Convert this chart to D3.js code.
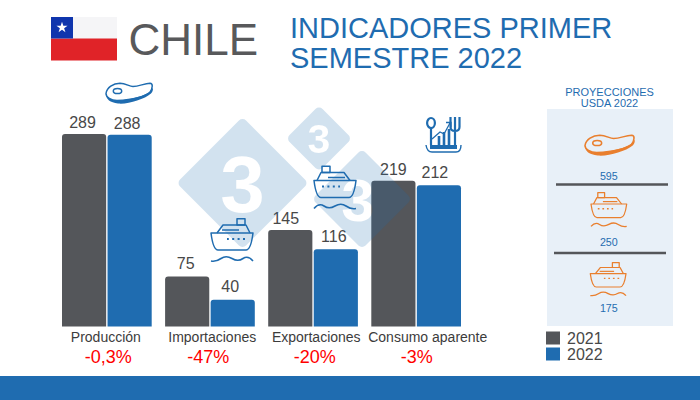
<!DOCTYPE html>
<html>
<head>
<meta charset="utf-8">
<script src="https://cdn.jsdelivr.net/npm/d3@7"></script>
<style>
  html, body { margin: 0; padding: 0; background: #fff; }
  text { font-family: "Liberation Sans", Arial, sans-serif; }
</style>
</head>
<body>
<div id="chart"></div>
<script>
// values
var categories = ["Producción", "Importaciones", "Exportaciones", "Consumo aparente"];
var years = ["2021", "2022"];
var values2021 = [289, 75, 145, 219];
var values2022 = [288, 40, 116, 212];
var changes = ["-0,3%", "-47%", "-20%", "-3%"];
var projections = ["595", "250", "175"];

var GREY = "#54565a", BLUE = "#1f6cb0", ORANGE = "#e97f2e", TEXT = "#484848";
var yearColor = d3.scaleOrdinal().domain(years).range([GREY, BLUE]);

var svg = d3.select("#chart").append("svg")
  .attr("width", 700).attr("height", 400)
  .style("display", "block");

// scales
var x = d3.scaleBand().domain(categories).range([62, 461]).paddingInner(0.13).paddingOuter(0).align(0);
var xYear = d3.scaleBand().domain(years).range([0, x.bandwidth()]).paddingInner(0.03);
var y = d3.scaleLinear().domain([0, 289]).range([326.5, 134]);

// bar with slightly rounded top corners
function barPath(x0, w, top, bottom) {
  var r = Math.min(3, bottom - top);
  var p = d3.path();
  p.moveTo(x0, bottom);
  p.lineTo(x0, top + r);
  p.quadraticCurveTo(x0, top, x0 + r, top);
  p.lineTo(x0 + w - r, top);
  p.quadraticCurveTo(x0 + w, top, x0 + w, top + r);
  p.lineTo(x0 + w, bottom);
  p.closePath();
  return p.toString();
}

// header
var flag = svg.append("g").attr("transform", "translate(51,17)");
flag.append("rect").attr("width", 66).attr("height", 22).attr("fill", "#f5f5f7");
flag.append("rect").attr("y", 21.5).attr("width", 66).attr("height", 22).attr("fill", "#e02328");
flag.append("rect").attr("width", 22).attr("height", 21.5).attr("fill", "#0f35ad");
flag.append("path")
  .attr("transform", "translate(11,10.5)")
  .attr("d", d3.symbol().type(d3.symbolStar).size(38))
  .attr("fill", "#fff");

svg.append("text").attr("x", 128.5).attr("y", 55)
  .attr("font-size", 44).attr("fill", "#58595b").text("CHILE");

svg.selectAll(".title").data(["INDICADORES PRIMER", "SEMESTRE 2022"]).enter().append("text")
  .attr("class", "title")
  .attr("x", 290).attr("y", function(d, i) { return 38 + i * 29.5; })
  .attr("font-size", 29).attr("fill", BLUE).text(function(d) { return d; });

// bars
var groups = svg.selectAll(".group").data(categories).enter().append("g")
  .attr("class", "group")
  .attr("transform", function(d) { return "translate(" + x(d) + ",0)"; });

groups.append("path")
  .attr("d", function(d, i) { return barPath(xYear("2021"), xYear.bandwidth(), y(values2021[i]), y(0)); })
  .attr("fill", yearColor("2021"));
groups.append("path")
  .attr("d", function(d, i) { return barPath(xYear("2022"), xYear.bandwidth(), y(values2022[i]), y(0)); })
  .attr("fill", yearColor("2022"));

// watermark, with the 3 cut out, sits over the bars
var marks = [
  { id: "m1", cx: 242.5, cy: 183, tx: 242.5, half: 66, fs: 80 },
  { id: "m2", cx: 319, cy: 138.5, tx: 319, half: 33, fs: 41 },
  { id: "m3", cx: 362, cy: 199, tx: 358, half: 50, fs: 60 }
];
var defs = svg.append("defs");
marks.forEach(function(m) {
  var mask = defs.append("mask").attr("id", m.id)
    .attr("maskUnits", "userSpaceOnUse").attr("x", 0).attr("y", 0).attr("width", 700).attr("height", 400);
  mask.append("rect").attr("width", 700).attr("height", 400).attr("fill", "#fff");
  mask.append("text").attr("x", m.tx).attr("y", m.cy + m.fs * 0.36)
    .attr("text-anchor", "middle").attr("font-size", m.fs).attr("font-weight", "bold")
    .attr("fill", "#000").text("3");
  var s = m.half * Math.SQRT2;
  svg.append("g").attr("mask", "url(#" + m.id + ")")
    .append("rect")
    .attr("x", -s / 2).attr("y", -s / 2).attr("width", s).attr("height", s).attr("rx", 5)
    .attr("transform", "translate(" + m.cx + "," + m.cy + ") rotate(45)")
    .attr("fill", BLUE).attr("fill-opacity", 0.2);
});

// value labels, the source nudges each one a little
var nudge2021 = [-1.5, -1.5, -4.5, 0];
var nudge2022 = [-2.5, -2.5, -2, -4];
var lift2021 = [6, 8, 6, 6];
var lift2022 = [6, 8, 7, 7.5];
groups.append("text")
  .attr("x", function(d, i) { return xYear("2021") + xYear.bandwidth() / 2 + nudge2021[i]; })
  .attr("y", function(d, i) { return y(values2021[i]) - lift2021[i]; })
  .attr("text-anchor", "middle").attr("font-size", 16).attr("fill", TEXT)
  .text(function(d, i) { return values2021[i]; });
groups.append("text")
  .attr("x", function(d, i) { return xYear("2022") + xYear.bandwidth() / 2 + nudge2022[i]; })
  .attr("y", function(d, i) { return y(values2022[i]) - lift2022[i]; })
  .attr("text-anchor", "middle").attr("font-size", 16).attr("fill", TEXT)
  .text(function(d, i) { return values2022[i]; });

// category names and changes
var nameNudge = [-1, 2.3, 3.2, 11.6];
var changeNudge = [1.4, -1.7, 1.7, 0.6];
groups.append("text")
  .attr("x", function(d, i) { return x.bandwidth() / 2 + nameNudge[i]; })
  .attr("y", 341.5).attr("text-anchor", "middle").attr("font-size", 14).attr("fill", "#3c3c3c")
  .text(function(d) { return d; });
groups.append("text")
  .attr("x", function(d, i) { return x.bandwidth() / 2 + changeNudge[i]; })
  .attr("y", 363).attr("text-anchor", "middle").attr("font-size", 18).attr("fill", "#ff0000")
  .text(function(d, i) { return changes[i]; });

// icons
function meat(sel, color) {
  sel.attr("fill", "none").attr("stroke", color).attr("stroke-width", 1.5).attr("stroke-linejoin", "round");
  sel.append("path").attr("fill", color).attr("stroke", "none")
    .attr("d", "M0,11C0,17 4,20 12,21C22,22 38,17 45,11C47,9 47,7 47,5C45,11 30,17 11,18C5,18 1,15 0,11Z");
  sel.append("path")
    .attr("d", "M0,11C1,5 7,1 14,.8C20,.8 23,4 27,4C33,4 38,1 44,.8C47,1 47,5 44,10C39,14 27,17 11,18C5,18 0,15 0,11Z");
  sel.append("ellipse").attr("cx", 11.5).attr("cy", 8.5).attr("rx", 4.2).attr("ry", 2.6);
}
function ship(sel, color) {
  sel.attr("fill", "none").attr("stroke", color).attr("stroke-width", 1.5).attr("stroke-linejoin", "round");
  sel.append("rect").attr("x", 8).attr("y", 0.7).attr("width", 8).attr("height", 6.3);
  sel.append("path").attr("d", "M3,15L7,7H30L36,15");
  sel.append("path").attr("d", "M0,15H42C41,23 39,32 35,32H7C3,32 1,23 0,15Z");
  sel.append("path").attr("d", "M14,12H31");
  sel.append("path").attr("stroke-dasharray", "2 3.4").attr("stroke-width", 1.8).attr("d", "M8,21H26");
  sel.append("path").attr("stroke-width", 1.6).attr("d", "M0,43Q5,37 10,40.5T21,40.5T32,40.5T42,43");
}
function cutlery(sel, color) {
  sel.attr("fill", "none").attr("stroke", color).attr("stroke-width", 2.2);
  sel.append("ellipse").attr("cx", 5).attr("cy", 6).attr("rx", 3.9).attr("ry", 5);
  sel.append("path").attr("d", "M5,11V28");
  sel.append("path").attr("d", "M24.5,0V10Q24.5,14 29,14Q33.5,14 33.5,10V0M29,0V29");
  sel.append("path").attr("stroke-width", 2.6).attr("d", "M13,28V19M18,28V15M23,28V12");
  sel.append("path").attr("stroke-width", 1.3).attr("d", "M6,22L14,15L18,17L24,6M20,5.5H25V10.5");
  sel.append("rect").attr("x", 4).attr("y", 28).attr("width", 27).attr("height", 4).attr("fill", color).attr("stroke", "none");
  sel.append("path").attr("stroke-width", 1.4).attr("d", "M0,28Q1,35 6,35H30Q35,35 35,28");
}
function place(fn, color, tx, ty, sx, sy) {
  svg.append("g").attr("transform", "translate(" + tx + "," + ty + ") scale(" + sx + "," + sy + ")").call(fn, color);
}
place(meat, BLUE, 106, 82.5, 1, 1);
place(ship, BLUE, 253, 218, -1, 1);
place(ship, BLUE, 314, 165.5, 1, 1);
place(cutlery, BLUE, 426, 117, 1, 1);

// projections panel
svg.append("rect").attr("x", 547).attr("y", 109).attr("width", 126).attr("height", 217).attr("fill", "#e8f0f8");
svg.selectAll(".ptitle").data(["PROYECCIONES", "USDA 2022"]).enter().append("text")
  .attr("class", "ptitle").attr("x", 609.5).attr("y", function(d, i) { return 95.7 + i * 11; })
  .attr("text-anchor", "middle").attr("font-size", 11).attr("fill", BLUE).text(function(d) { return d; });
var projY = [180, 245.7, 311.7];
svg.selectAll(".proj").data(projections).enter().append("text")
  .attr("class", "proj")
  .attr("x", 608.8).attr("y", function(d, i) { return projY[i]; })
  .attr("text-anchor", "middle").attr("font-size", 10.7).attr("fill", BLUE).text(function(d) { return d; });
svg.append("line").attr("x1", 556).attr("x2", 668).attr("y1", 184.5).attr("y2", 184.5).attr("stroke", GREY).attr("stroke-width", 2.5);
svg.append("line").attr("x1", 554).attr("x2", 666).attr("y1", 253).attr("y2", 253).attr("stroke", GREY).attr("stroke-width", 2.5);
place(meat, ORANGE, 585, 134.5, 1.06, 1);
place(ship, ORANGE, 591, 192, 0.85, 0.8);
place(ship, ORANGE, 626, 262, -0.85, 0.78);

// legend
var legend = svg.selectAll(".legend").data(years).enter().append("g")
  .attr("class", "legend")
  .attr("transform", function(d, i) { return "translate(546," + (331.5 + i * 16) + ")"; });
legend.append("rect").attr("width", 14).attr("height", 13).attr("fill", function(d) { return yearColor(d); });
legend.append("text").attr("x", 21).attr("y", 12.5).attr("font-size", 16).attr("fill", TEXT).text(function(d) { return d; });

// footer
svg.append("rect").attr("x", 0).attr("y", 376).attr("width", 700).attr("height", 24).attr("fill", BLUE);
</script>
</body>
</html>
